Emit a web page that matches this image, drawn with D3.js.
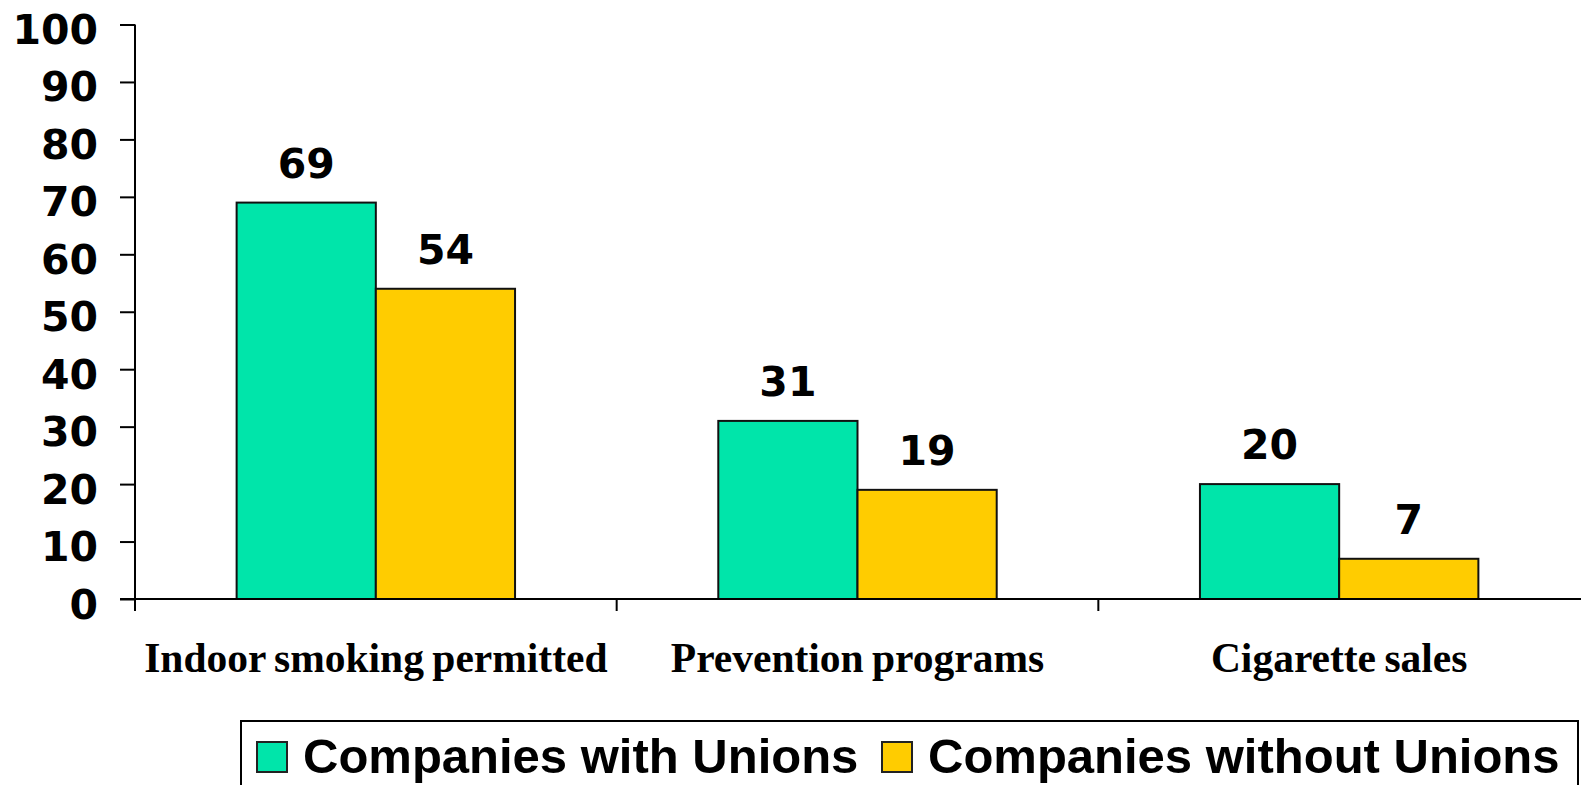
<!DOCTYPE html>
<html>
<head>
<meta charset="utf-8">
<script src="https://cdn.jsdelivr.net/npm/d3@7"></script>
<style>
  body { margin: 0; background: #fff; }
  svg { display: block; }
</style>
</head>
<body>
<div id="chart"></div>
<script>
// chart data
const categories = ["Indoor smoking permitted", "Prevention programs", "Cigarette sales"];
const series = ["Companies with Unions", "Companies without Unions"];
const withUnions = [69, 31, 20];
const withoutUnions = [54, 19, 7];
const yTicks = [0, 10, 20, 30, 40, 50, 60, 70, 80, 90, 100];

const colors = ["#00E5AA", "#FFCC00"];

const width = 1581, height = 785;
const margin = {top: 24.5, left: 135, right: 1, bottom: 186};

const svg = d3.select("#chart")
    .append("svg")
    .attr("width", width)
    .attr("height", height);

const rows = categories.map((c, i) => ({cat: c, values: [withUnions[i], withoutUnions[i]]}));

// scales
const x0 = d3.scaleBand()
    .domain(categories)
    .range([margin.left, width - margin.right]);

const x1 = d3.scaleBand()
    .domain(series)
    .range([0, x0.step()])
    .paddingInner(0)
    .paddingOuter(0.73);

const y = d3.scaleLinear()
    .domain([0, 100])
    .range([599, margin.top]);

const color = d3.scaleOrdinal().domain(series).range(colors);

// y axis
const yAxis = svg.append("g")
    .attr("transform", "translate(" + margin.left + ",0)")
    .call(d3.axisLeft(y).tickValues(yTicks).tickSize(15).tickPadding(22).tickSizeOuter(0));

yAxis.select(".domain").remove();
yAxis.selectAll(".tick line").attr("stroke", "#000").attr("stroke-width", 2);
yAxis.selectAll(".tick text")
    .attr("dy", "19px")
    .attr("fill", "#000")
    .style("font-family", "'DejaVu Sans', Verdana, sans-serif")
    .style("font-weight", "bold")
    .style("font-size", "41px");

// vertical axis line (runs a little below zero)
svg.append("line")
    .attr("x1", margin.left).attr("x2", margin.left)
    .attr("y1", y(100)).attr("y2", y(0) + 12)
    .attr("stroke", "#000").attr("stroke-width", 2);

// bars
const groups = svg.selectAll(".group")
    .data(rows)
    .enter()
    .append("g")
    .attr("class", "group")
    .attr("transform", d => "translate(" + x0(d.cat) + ",0)");

groups.selectAll("rect")
    .data(d => d.values.map((v, i) => ({key: series[i], value: v})))
    .enter()
    .append("rect")
    .attr("x", d => x1(d.key))
    .attr("y", d => y(d.value))
    .attr("width", x1.bandwidth())
    .attr("height", d => y(0) - y(d.value))
    .attr("fill", d => color(d.key))
    .attr("stroke", "#111")
    .attr("stroke-width", 2);

groups.selectAll(".value-label")
    .data(d => d.values.map((v, i) => ({key: series[i], value: v})))
    .enter()
    .append("text")
    .attr("class", "value-label")
    .attr("x", d => x1(d.key) + x1.bandwidth() / 2)
    .attr("y", d => y(d.value) - 25)
    .attr("text-anchor", "middle")
    .style("font-family", "'DejaVu Sans', Verdana, sans-serif")
    .style("font-weight", "bold")
    .style("font-size", "41px")
    .text(d => d.value);

// x axis line + category boundary ticks
svg.append("line")
    .attr("x1", margin.left - 15).attr("x2", width)
    .attr("y1", y(0)).attr("y2", y(0))
    .attr("stroke", "#000").attr("stroke-width", 2);

svg.selectAll(".cat-tick")
    .data(categories.slice(1))
    .enter()
    .append("line")
    .attr("class", "cat-tick")
    .attr("x1", d => x0(d)).attr("x2", d => x0(d))
    .attr("y1", y(0)).attr("y2", y(0) + 12)
    .attr("stroke", "#000").attr("stroke-width", 2);

svg.selectAll(".cat-label")
    .data(categories)
    .enter()
    .append("text")
    .attr("class", "cat-label")
    .attr("x", d => x0(d) + x0.bandwidth() / 2)
    .attr("y", 672)
    .attr("text-anchor", "middle")
    .style("font-family", "'Liberation Serif', 'Times New Roman', serif")
    .style("font-weight", "bold")
    .style("font-size", "41.5px")
    .style("word-spacing", "-2px")
    .text(d => d);

// legend
const legend = svg.append("g").attr("class", "legend");

legend.append("rect")
    .attr("x", 241).attr("y", 721)
    .attr("width", 1337).attr("height", 90)
    .attr("fill", "#fff")
    .attr("stroke", "#000").attr("stroke-width", 2);

const legendX = [257, 882];
const legendItems = legend.selectAll(".legend-item")
    .data(series)
    .enter()
    .append("g")
    .attr("class", "legend-item")
    .attr("transform", (d, i) => "translate(" + legendX[i] + ",742)");

legendItems.append("rect")
    .attr("width", 30).attr("height", 30)
    .attr("fill", d => color(d))
    .attr("stroke", "#222").attr("stroke-width", 2);

legendItems.append("text")
    .attr("x", 46)
    .attr("y", 31)
    .style("font-family", "'Liberation Sans', Arial, sans-serif")
    .style("font-weight", "bold")
    .style("font-size", "49px")
    .text(d => d);
</script>
</body>
</html>
